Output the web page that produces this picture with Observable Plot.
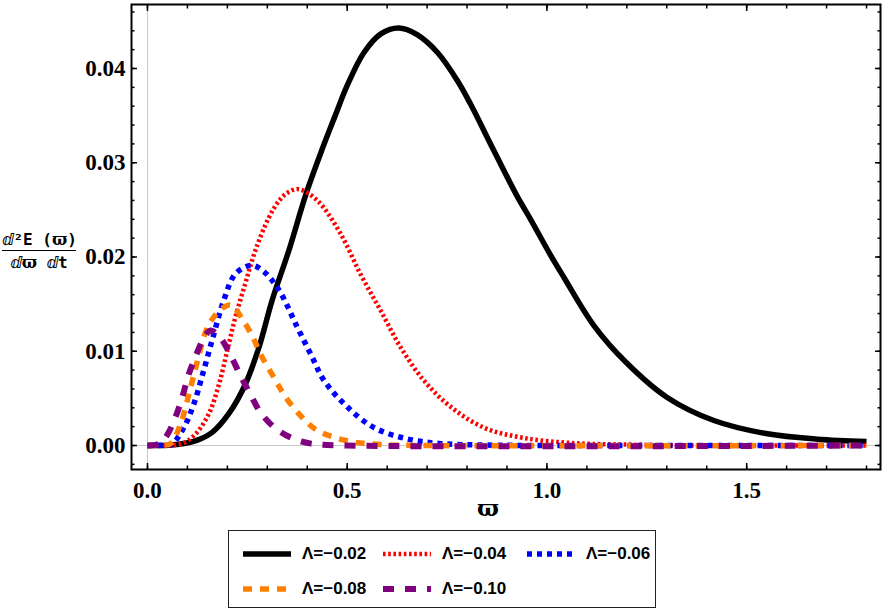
<!DOCTYPE html>
<html>
<head>
<meta charset="utf-8">
<script src="https://cdn.jsdelivr.net/npm/d3@7"></script>
<script src="https://cdn.jsdelivr.net/npm/@observablehq/plot@0.6"></script>
<style>
  html, body { margin: 0; padding: 0; background: white; }
  #wrap { position: relative; width: 886px; height: 613px; overflow: hidden; }
  #ylab { position: absolute; left: 2px; top: 230px; width: 74px; text-align: center;
          font-family: "DejaVu Sans Mono", "DejaVu Sans", monospace; font-weight: bold; font-size: 16px; color: black; line-height: 19px; }
  #ylab .num { border-bottom: 1.5px solid black; padding-bottom: 1px; white-space: nowrap; }
  #ylab .den { padding-top: 2px; white-space: nowrap; }
  #ylab .g { font-family: "DejaVu Serif", serif; }
  #legend { position: absolute; left: 228px; top: 530px; width: 428px; height: 78px;
            border: 1px solid #222; box-sizing: border-box; }
  .item { position: absolute; display: flex; align-items: center; height: 20px; }
  .item svg { display: block; }
  .item span { margin-left: 11px; font-family: "Liberation Sans", Arial, sans-serif; font-weight: bold; font-size: 17px; color: black; white-space: nowrap; }
</style>
</head>
<body>
<div id="wrap">
  <div id="chart"></div>
  <div id="ylab"><div class="num">ⅆ²E (<span class="g">ϖ</span>)</div><div class="den">ⅆ<span class="g">ϖ</span> ⅆt</div></div>
  <div id="legend"></div>
</div>
<script>
// ---- data ----
const omegaA = [0, 0.06, 0.12, 0.162, 0.204, 0.245, 0.279, 0.312, 0.354, 0.397, 0.437, 0.470, 0.500, 0.542, 0.585, 0.629, 0.675, 0.726, 0.776, 0.809, 0.867, 0.926, 0.959, 1.009, 1.043, 1.118, 1.201, 1.301, 1.418, 1.552, 1.677, 1.8];
const energyA = [0, 0.00005, 0.0005, 0.0014, 0.0034, 0.0065, 0.0104, 0.0154, 0.0207, 0.0267, 0.0314, 0.0350, 0.0382, 0.0417, 0.0437, 0.0443, 0.0436, 0.0417, 0.0387, 0.0362, 0.0313, 0.0264, 0.0240, 0.0202, 0.0178, 0.0127, 0.0087, 0.0051, 0.00265, 0.00124, 0.00067, 0.00042];

const omegaB = [0, 0.05, 0.087, 0.120, 0.154, 0.179, 0.200, 0.220, 0.245, 0.270, 0.304, 0.330, 0.350, 0.378, 0.425, 0.483, 0.533, 0.584, 0.634, 0.692, 0.759, 0.842, 0.942, 1.068, 1.2, 1.4, 1.8];
const energyB = [0, 0.00002, 0.0002, 0.0012, 0.0034, 0.0065, 0.0101, 0.0136, 0.0172, 0.0207, 0.0242, 0.0260, 0.0268, 0.0272, 0.0260, 0.0225, 0.0182, 0.0143, 0.0104, 0.0069, 0.0041, 0.0019, 0.0008, 0.00025, 0.0001, 0, 0];

const omegaC = [0, 0.04, 0.062, 0.091, 0.116, 0.141, 0.166, 0.191, 0.220, 0.260, 0.290, 0.329, 0.375, 0.412, 0.442, 0.500, 0.567, 0.650, 0.734, 0.85, 1.0, 1.8];
const energyC = [0, 0.00003, 0.0002, 0.0019, 0.0044, 0.0080, 0.0118, 0.0154, 0.0182, 0.0191, 0.0185, 0.0165, 0.01255, 0.0094, 0.0069, 0.0041, 0.0019, 0.0007, 0.0002, 0.00005, 0, 0];

const omegaD = [0, 0.04, 0.058, 0.083, 0.104, 0.124, 0.145, 0.162, 0.185, 0.208, 0.245, 0.266, 0.283, 0.321, 0.346, 0.387, 0.425, 0.500, 0.584, 0.7, 1.8];
const energyD = [0, 0.00003, 0.0002, 0.0023, 0.0055, 0.0088, 0.0120, 0.0134, 0.0145, 0.0149, 0.0129, 0.0113, 0.0097, 0.0069, 0.0051, 0.0030, 0.0016, 0.0005, 0.0001, 0, 0];

const omegaE = [0, 0.03, 0.049, 0.070, 0.087, 0.102, 0.120, 0.140, 0.158, 0.183, 0.210, 0.233, 0.258, 0.283, 0.321, 0.366, 0.41, 0.5, 1.8];
const energyE = [0, 0.0002, 0.0011, 0.0030, 0.0051, 0.0074, 0.0094, 0.0113, 0.0122, 0.0114, 0.0094, 0.0074, 0.0054, 0.0035, 0.0018, 0.0007, 0.0002, 0, 0];

const seriesNames = ["Λ=−0.02", "Λ=−0.04", "Λ=−0.06", "Λ=−0.08", "Λ=−0.10"];
const seriesColors = ["black", "#ff0000", "#0000ff", "#ff8000", "#800080"];
const seriesDash = [null, "2.6,2.6", "5,5", "9,8", "11,11"];
const seriesWidth = [5.5, 4.5, 5.5, 5.5, 6];

const xMajor = [0, 0.5, 1.0, 1.5];
const xMinor = d3.range(0, 19).map(i => i / 10);
const yMajor = [0, 0.01, 0.02, 0.03, 0.04];
const yMinor = d3.range(-1, 24).map(i => i * 0.002);

// ---- build ----
const omegas = [omegaA, omegaB, omegaC, omegaD, omegaE];
const energies = [energyA, energyB, energyC, energyD, energyE];
const tables = omegas.map((ws, k) => ws.map((w, i) => ({w, e: energies[k][i]})));

const serif = "Liberation Serif, Times New Roman, serif";
const tickStyle = {strokeWidth: 1.5, tickFormat: () => "", label: null};

const lines = tables.map((t, k) => Plot.line(t, {
  x: "w", y: "e", curve: "catmull-rom",
  stroke: seriesColors[k], strokeWidth: seriesWidth[k],
  strokeDasharray: seriesDash[k], strokeLinecap: "butt", strokeLinejoin: "round"
}));

const chart = Plot.plot({
  width: 886,
  height: 520,
  marginLeft: 131,
  marginRight: 6,
  marginTop: 4,
  marginBottom: 51,
  style: {background: "white", overflow: "visible"},
  x: {domain: [-0.04, 1.835]},
  y: {domain: [-0.002546, 0.04679]},
  marks: [
    Plot.ruleX([0], {stroke: "#c8c8c8", strokeWidth: 1}),
    Plot.ruleY([0], {stroke: "#c8c8c8", strokeWidth: 1}),
    ...lines,
    // inward ticks on all sides
    Plot.axisX(xMinor, {anchor: "bottom", tickSize: -3.5, ...tickStyle}),
    Plot.axisX(xMajor, {anchor: "bottom", tickSize: -6, ...tickStyle}),
    Plot.axisX(xMinor, {anchor: "top", tickSize: -3.5, ...tickStyle}),
    Plot.axisX(xMajor, {anchor: "top", tickSize: -6, ...tickStyle}),
    Plot.axisY(yMinor, {anchor: "left", tickSize: -3.5, ...tickStyle}),
    Plot.axisY(yMajor, {anchor: "left", tickSize: -6, ...tickStyle}),
    Plot.axisY(yMinor, {anchor: "right", tickSize: -3.5, ...tickStyle}),
    Plot.axisY(yMajor, {anchor: "right", tickSize: -6, ...tickStyle}),
    // tick labels
    Plot.axisX(xMajor, {anchor: "bottom", tickSize: 0, tickPadding: 12, tickFormat: d3.format(".1f"),
      fontSize: 23, fontWeight: "bold", fontFamily: serif, label: null}),
    Plot.axisY(yMajor, {anchor: "left", tickSize: 0, tickPadding: 6, tickFormat: d3.format(".2f"),
      fontSize: 23, fontWeight: "bold", fontFamily: serif, label: null}),
    Plot.text(["ϖ"], {frameAnchor: "bottom", dx: -18, dy: 46, fontSize: 23, fontWeight: "bold",
      fontFamily: "DejaVu Serif, serif", fill: "black"}),
    Plot.frame({stroke: "black", strokeWidth: 2})
  ]
});
document.getElementById("chart").appendChild(chart);

// ---- legend ----
const legend = document.getElementById("legend");
const legendPos = [[14, 13], [154, 13], [298, 13], [14, 48], [154, 48]];
seriesNames.forEach((name, k) => {
  const item = document.createElement("div");
  item.className = "item";
  item.style.left = legendPos[k][0] + "px";
  item.style.top = legendPos[k][1] + "px";
  const ns = "http://www.w3.org/2000/svg";
  const svg = document.createElementNS(ns, "svg");
  svg.setAttribute("width", 48);
  svg.setAttribute("height", 10);
  const ln = document.createElementNS(ns, "line");
  ln.setAttribute("x1", 0); ln.setAttribute("x2", 48);
  ln.setAttribute("y1", 5); ln.setAttribute("y2", 5);
  ln.setAttribute("stroke", seriesColors[k]);
  ln.setAttribute("stroke-width", seriesWidth[k]);
  if (seriesDash[k]) ln.setAttribute("stroke-dasharray", seriesDash[k]);
  svg.appendChild(ln);
  item.appendChild(svg);
  const sp = document.createElement("span");
  sp.textContent = name;
  item.appendChild(sp);
  legend.appendChild(item);
});
</script>
</body>
</html>
